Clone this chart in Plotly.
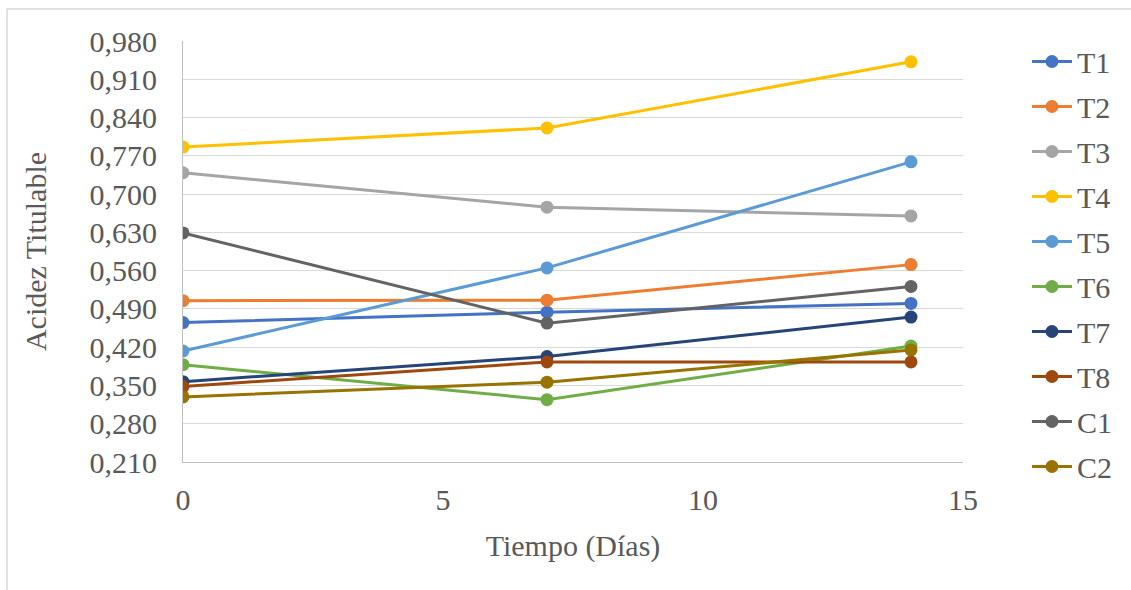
import plotly.graph_objects as go

# Sampling days
dias = [0, 7, 14]

# Titratable acidity per treatment
T1 = [0.465, 0.484, 0.500]
T2 = [0.505, 0.506, 0.571]
T3 = [0.739, 0.676, 0.660]
T4 = [0.786, 0.821, 0.942]
T5 = [0.413, 0.565, 0.759]
T6 = [0.388, 0.324, 0.422]
T7 = [0.357, 0.403, 0.475]
T8 = [0.348, 0.393, 0.393]
C1 = [0.629, 0.464, 0.531]
C2 = [0.329, 0.356, 0.415]

nombres = ["T1", "T2", "T3", "T4", "T5", "T6", "T7", "T8", "C1", "C2"]
series = [T1, T2, T3, T4, T5, T6, T7, T8, C1, C2]
colores = ["#4472C4", "#ED7D31", "#A5A5A5", "#FFC000", "#5B9BD5",
           "#70AD47", "#264478", "#9E480E", "#636363", "#997300"]

y_ticks = [0.210, 0.280, 0.350, 0.420, 0.490, 0.560, 0.630, 0.700,
           0.770, 0.840, 0.910, 0.980]
y_labels = [f"{v:.3f}".replace(".", ",") for v in y_ticks]

FONT = "Liberation Serif, Times New Roman, serif"
TXT = "#595959"

fig = go.Figure()
for nombre, valores, color in zip(nombres, series, colores):
    fig.add_trace(go.Scatter(
        x=dias, y=valores, name=nombre, mode="lines+markers",
        legendgroup=nombre,
        line=dict(color=color, width=3),
        marker=dict(color=color, size=13),
    ))

fig.update_layout(
    width=1131, height=590,
    margin=dict(l=183, r=168, t=41, b=128),
    paper_bgcolor="white", plot_bgcolor="white",
    font=dict(family=FONT, size=30, color=TXT),
    showlegend=True,
    legend=dict(
        x=1.082, y=1.013, xanchor="left", yanchor="top",
        font=dict(family=FONT, size=30, color=TXT),
        tracegroupgap=3, itemwidth=40, maxheight=570,
        bgcolor="rgba(0,0,0,0)",
    ),
    xaxis=dict(
        range=[0, 15], tickvals=[0, 5, 10, 15], ticktext=["0", "5", "10", "15"],
        showgrid=False, zeroline=False,
        showline=True, linecolor="#BFBFBF", linewidth=1,
        ticks="", ticklabelstandoff=11,
        tickfont=dict(family=FONT, size=30, color=TXT),
        title=dict(text="Tiempo (Días)", standoff=19,
                   font=dict(family=FONT, size=30, color=TXT)),
    ),
    yaxis=dict(
        range=[0.210, 0.980], tickvals=y_ticks, ticktext=y_labels,
        showgrid=True, gridcolor="#D9D9D9", gridwidth=1.3,
        zeroline=False, showline=True, linecolor="#BFBFBF", linewidth=1,
        ticks="", ticklabelstandoff=19,
        tickfont=dict(family=FONT, size=30, color=TXT),
        title=dict(text="Acidez Titulable", standoff=34,
                   font=dict(family=FONT, size=30, color=TXT)),
    ),
    shapes=[dict(
        type="rect", xref="paper", yref="paper",
        x0=-0.2256, x1=1.3, y0=-0.35, y1=1.076,
        line=dict(color="#D9D9D9", width=1.5), layer="below",
    )],
)

fig.write_html("out.html")
